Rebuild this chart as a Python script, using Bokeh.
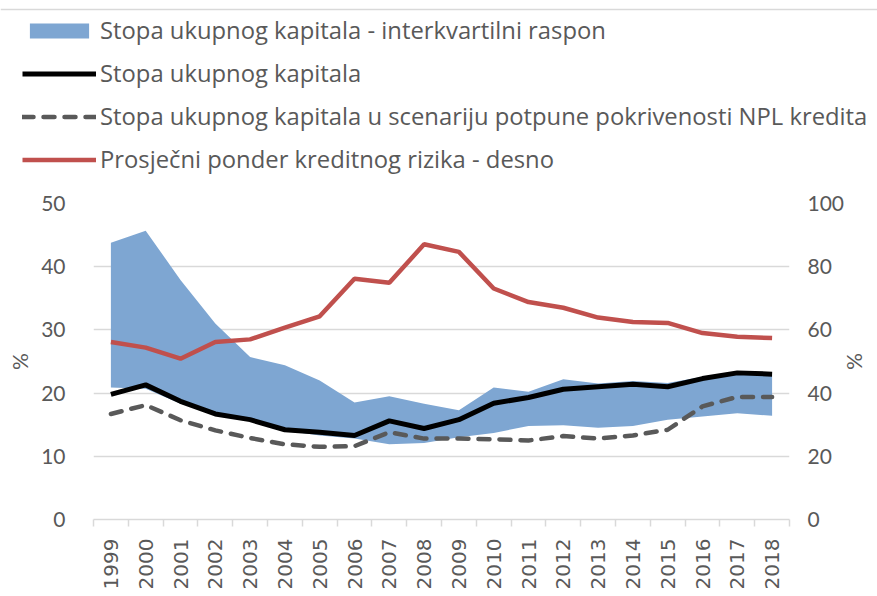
from bokeh.plotting import figure
from bokeh.models import (Range1d, LinearAxis, FixedTicker, Legend, LegendItem,
                          ColumnDataSource, Span)
from bokeh.embed import file_html
from bokeh.resources import INLINE
import math

years = [1999, 2000, 2001, 2002, 2003, 2004, 2005, 2006, 2007, 2008, 2009,
         2010, 2011, 2012, 2013, 2014, 2015, 2016, 2017, 2018]
iqr_low = [20.9, 20.7, 18.3, 17.0, 15.9, 14.1, 13.3, 12.8, 11.9, 12.1, 13.0,
           13.7, 14.8, 14.9, 14.5, 14.8, 15.8, 16.3, 16.8, 16.4]
iqr_high = [43.8, 45.7, 37.9, 31.0, 25.7, 24.4, 22.0, 18.5, 19.5, 18.3, 17.3,
            20.9, 20.2, 22.2, 21.5, 21.9, 21.6, 22.6, 23.0, 22.8]
total_capital = [19.8, 21.3, 18.7, 16.7, 15.8, 14.2, 13.8, 13.3, 15.6, 14.4, 15.8,
                 18.4, 19.3, 20.6, 21.0, 21.4, 21.0, 22.3, 23.2, 23.0]
npl_scenario = [16.7, 18.1, 15.7, 14.1, 12.9, 11.9, 11.5, 11.6, 13.8, 12.8, 12.8,
                12.7, 12.5, 13.2, 12.8, 13.3, 14.2, 17.9, 19.4, 19.4]
risk_weight = [56.2, 54.4, 50.9, 56.2, 57.0, 60.7, 64.3, 76.2, 74.9, 87.1, 84.7,
               73.1, 68.8, 67.0, 63.9, 62.5, 62.2, 59.0, 57.8, 57.4]
left_ticks = [0, 10, 20, 30, 40, 50]
right_ticks = [0, 20, 40, 60, 80, 100]

labels = ["Stopa ukupnog kapitala - interkvartilni raspon",
          "Stopa ukupnog kapitala",
          "Stopa ukupnog kapitala u scenariju potpune pokrivenosti NPL kredita",
          "Prosječni ponder kreditnog rizika - desno"]

idx = list(range(len(years)))
src = ColumnDataSource(dict(x=idx, lo=iqr_low, hi=iqr_high, tc=total_capital,
                            npl=npl_scenario, rw=risk_weight))

TXT = "#595959"
GRID = "#d9d9d9"
BLUE = "#7ea6d2"
RED = "#c0504d"
DASH = "#595959"
TICK_FONT = "Lato"
LEG_FONT = "Open Sans"
LEG_H = 185

S = dict(
    tc=dict(line_color="black", line_width=5),
    npl=dict(line_color=DASH, line_width=4.5, line_dash="11 10", line_cap="round"),
    rw=dict(line_color=RED, line_width=4.5),
)

# ---- legend figure (separate root) ----
lf = figure(width=877, height=LEG_H, output_backend="svg", toolbar_location=None,
            x_range=Range1d(1000, 1001), y_range=Range1d(0, LEG_H),
            x_axis_location=None, y_axis_location=None,
            min_border_left=0, min_border_right=0, min_border_top=0, min_border_bottom=0)
lf.outline_line_color = None
lf.grid.visible = False
# proxies: same data, kept outside the visible x range; used only for legend swatches
g0 = lf.varea(x="x", y1="lo", y2="hi", source=src, fill_color=BLUE)
g1 = lf.line(x="x", y="tc", source=src, **S["tc"])
g2 = lf.line(x="x", y="npl", source=src, **S["npl"])
g3 = lf.line(x="x", y="rw", source=src, **S["rw"])
lf.add_layout(Span(location=LEG_H - 9, dimension="width", line_color=GRID, line_width=1.5))
legend = Legend(items=[LegendItem(label=labels[0], renderers=[g0]),
                       LegendItem(label=labels[1], renderers=[g1]),
                       LegendItem(label=labels[2], renderers=[g2]),
                       LegendItem(label=labels[3], renderers=[g3])],
                location=(22, 10))
legend.padding = 0
legend.margin = 0
legend.border_line_color = None
legend.background_fill_alpha = 0
legend.glyph_width = 74
legend.glyph_height = 19
legend.label_height = 19
legend.spacing = 11
legend.label_standoff = 4
legend.label_text_font = LEG_FONT
legend.label_text_font_size = "23.8px"
legend.label_text_color = TXT
lf.add_layout(legend, "center")

# ---- main figure ----
p = figure(width=877, height=596 - LEG_H, output_backend="svg", toolbar_location=None,
           x_range=Range1d(-0.5, len(years) - 0.5), y_range=Range1d(0, 50),
           min_border_left=93, min_border_right=88, min_border_top=203 - LEG_H,
           min_border_bottom=77)
p.outline_line_color = None
p.extra_y_ranges = {"right": Range1d(0, 100)}

p.varea(x="x", y1="lo", y2="hi", source=src, fill_color=BLUE)
p.line(x="x", y="tc", source=src, **S["tc"])
p.line(x="x", y="npl", source=src, **S["npl"])
p.line(x="x", y="rw", source=src, y_range_name="right", **S["rw"])

xa = p.xaxis[0]
xa.ticker = FixedTicker(ticks=idx, minor_ticks=[i - 0.5 for i in range(len(years) + 1)])
xa.major_label_overrides = {i: str(y) for i, y in zip(idx, years)}
xa.major_label_orientation = math.pi / 2
xa.major_tick_line_color = None
xa.major_tick_out = 0
xa.major_tick_in = 0
xa.minor_tick_out = 7
xa.minor_tick_in = 0
xa.minor_tick_line_color = GRID
xa.minor_tick_line_width = 1.5
xa.axis_line_color = GRID
xa.axis_line_width = 1.5
xa.major_label_text_font = "DejaVu Sans"
xa.major_label_text_font_size = "20px"
xa.major_label_text_color = TXT
xa.major_label_standoff = 12

ya = p.yaxis[0]
ya.ticker = FixedTicker(ticks=left_ticks)
ya.axis_line_color = None
ya.major_tick_line_color = None
ya.major_tick_out = 0
ya.major_tick_in = 0
ya.minor_tick_line_color = None
ya.minor_tick_out = 0
ya.major_label_text_font = TICK_FONT
ya.major_label_text_font_size = "21px"
ya.major_label_text_color = TXT
ya.major_label_standoff = 28
ya.axis_label = "%"
ya.axis_label_text_font = TICK_FONT
ya.axis_label_text_font_size = "21px"
ya.axis_label_text_font_style = "normal"
ya.axis_label_text_color = TXT
ya.axis_label_standoff = 6

ra = LinearAxis(y_range_name="right", ticker=FixedTicker(ticks=right_ticks))
ra.axis_line_color = None
ra.major_tick_line_color = None
ra.major_tick_out = 0
ra.major_tick_in = 0
ra.minor_tick_line_color = None
ra.minor_tick_out = 0
ra.major_label_text_font = TICK_FONT
ra.major_label_text_font_size = "21px"
ra.major_label_text_color = TXT
ra.major_label_standoff = 18
ra.axis_label = "%"
ra.axis_label_text_font = TICK_FONT
ra.axis_label_text_font_size = "21px"
ra.axis_label_text_font_style = "normal"
ra.axis_label_text_color = TXT
ra.axis_label_standoff = -4
p.add_layout(ra, "right")

p.xgrid.visible = False
p.ygrid.ticker = FixedTicker(ticks=left_ticks[1:])
p.ygrid.grid_line_color = GRID
p.ygrid.grid_line_width = 1.5

open("out.html", "w").write(file_html([lf, p], INLINE))
